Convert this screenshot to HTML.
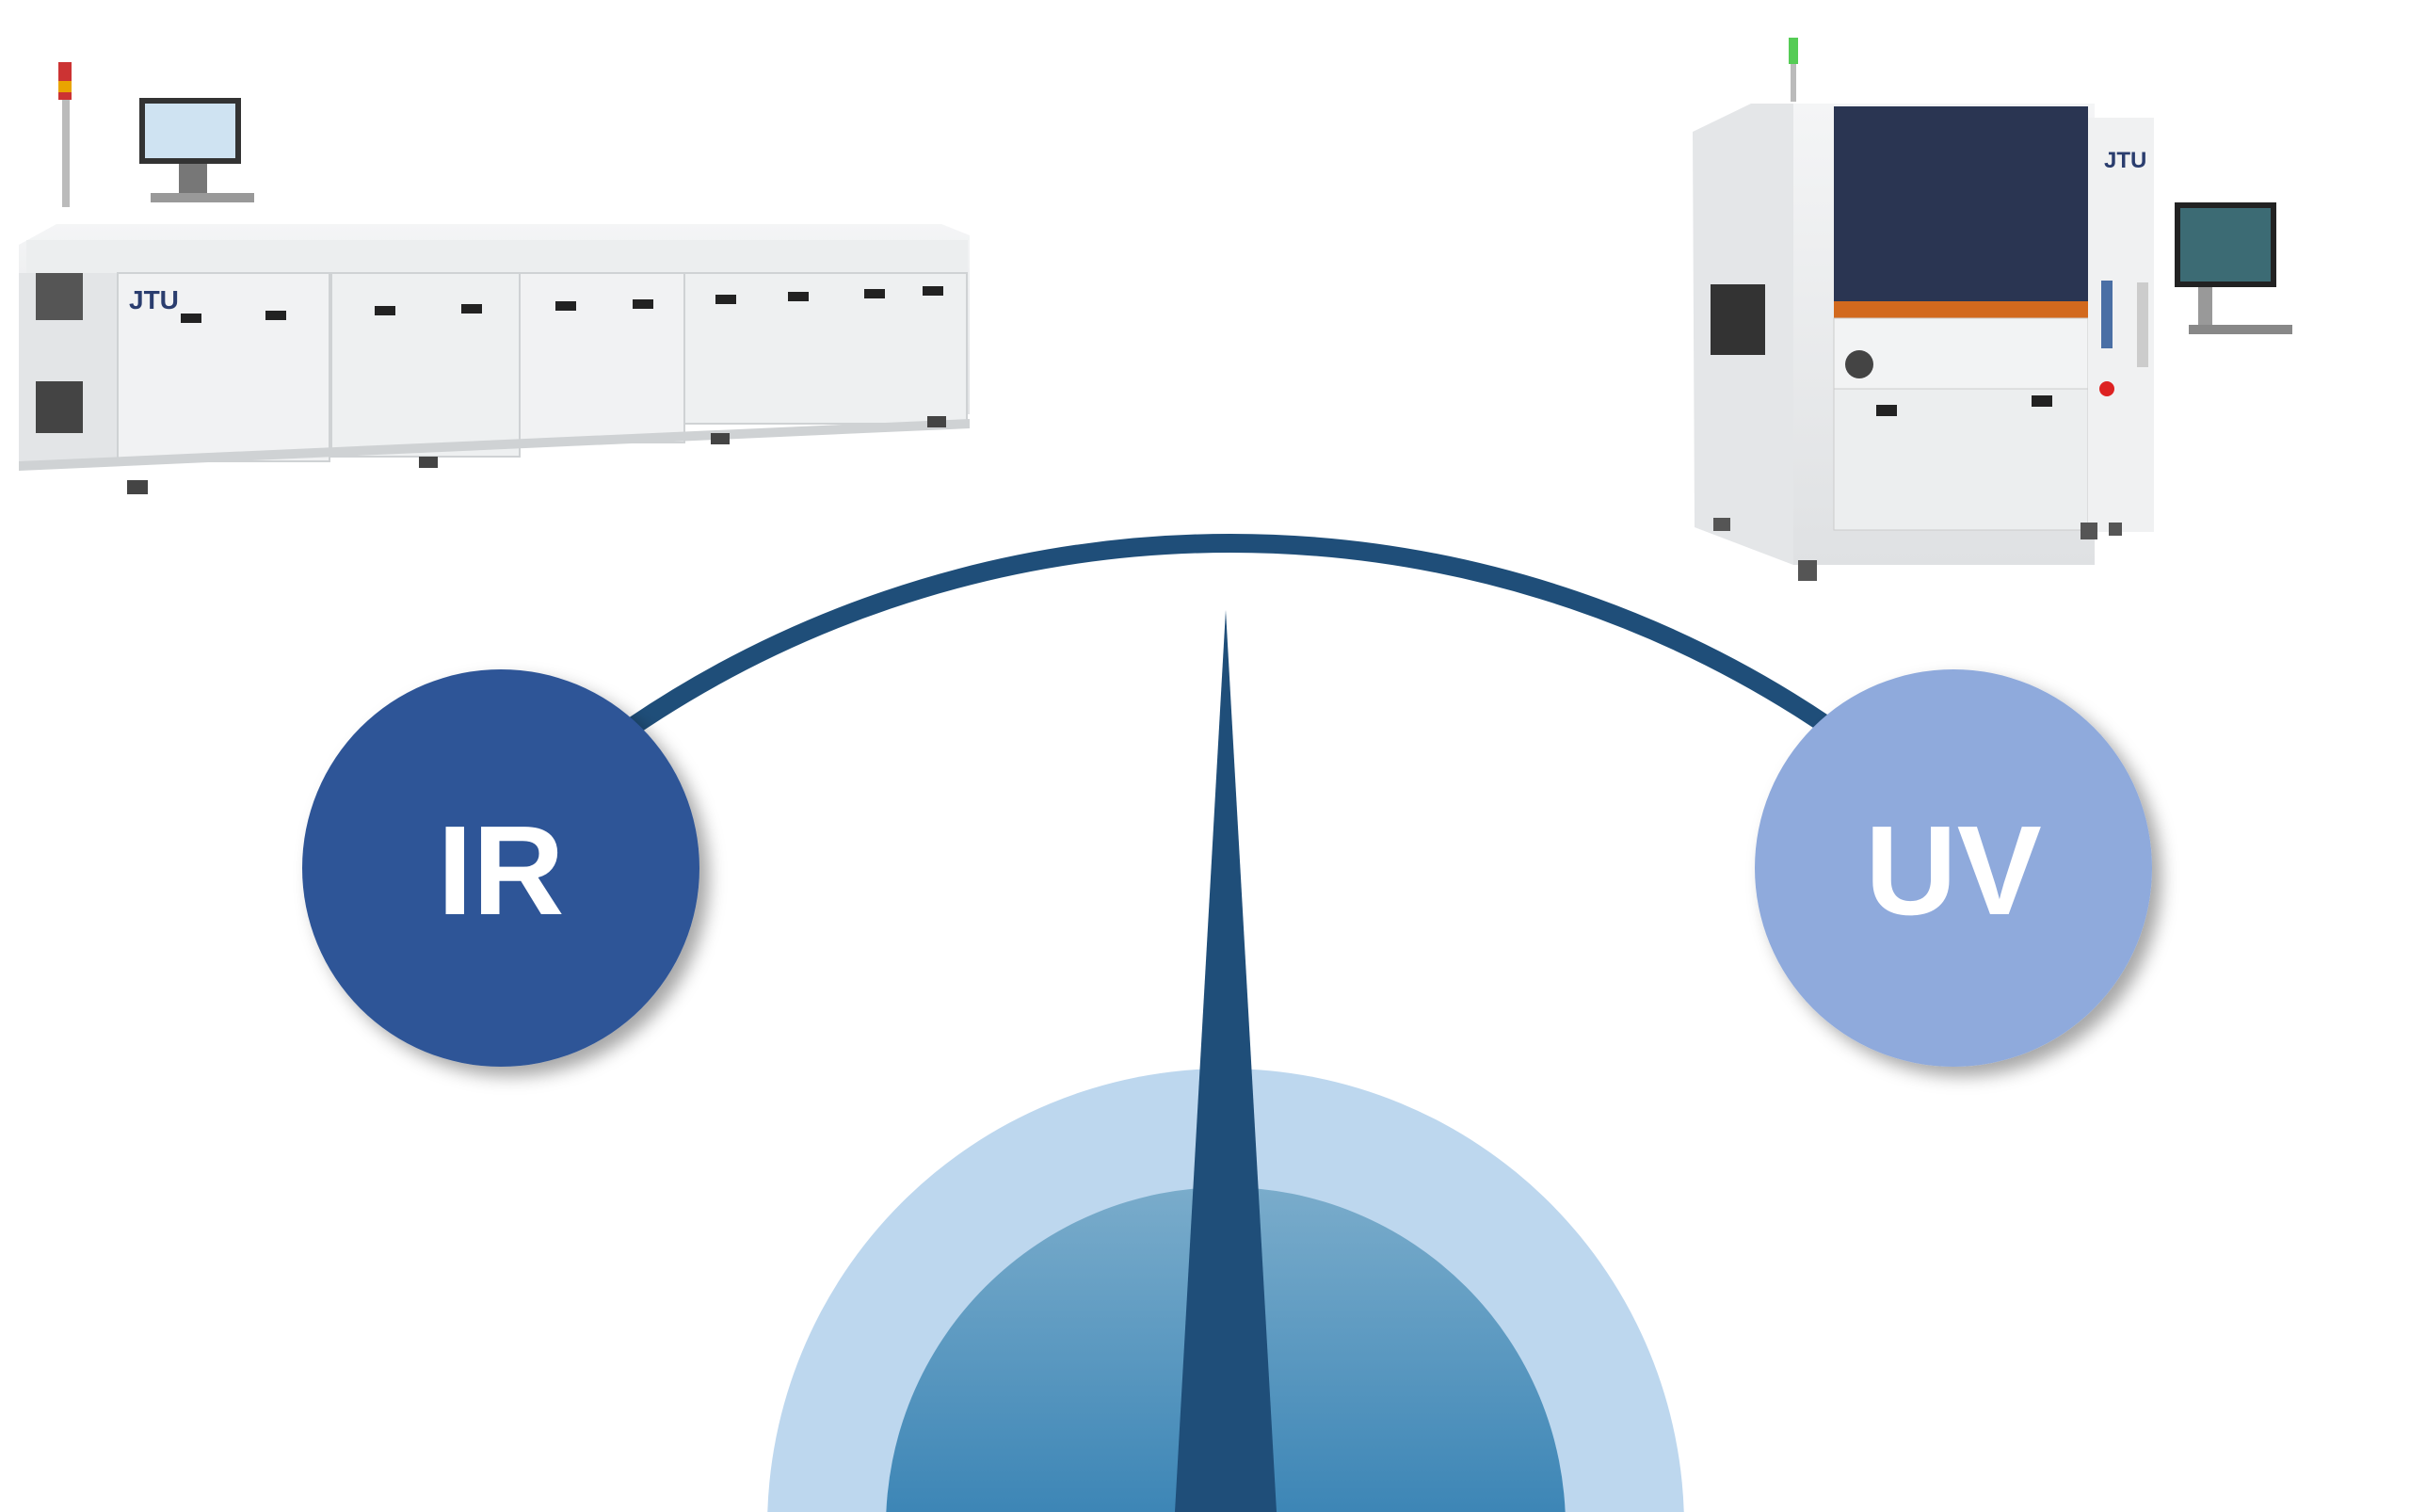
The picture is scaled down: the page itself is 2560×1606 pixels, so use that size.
<!DOCTYPE html>
<html><head><meta charset="utf-8"><style>
html,body{margin:0;padding:0;background:#fff;overflow:hidden;width:2560px;height:1606px;}
svg{display:block;}
</style></head><body>
<svg width="2560" height="1606" viewBox="0 0 2560 1606" xmlns="http://www.w3.org/2000/svg" style="overflow:hidden">
<defs>
<linearGradient id="g1" x1="0" y1="0" x2="0" y2="1">
<stop offset="0" stop-color="#7aaccb"/><stop offset="0.5" stop-color="#3a84b5"/><stop offset="1" stop-color="#2570a5"/>
</linearGradient>
<filter id="sh" x="-20%" y="-20%" width="150%" height="150%"><feDropShadow dx="10" dy="10" stdDeviation="9" flood-color="#000" flood-opacity="0.35"/></filter>
<linearGradient id="mg" x1="0" y1="0" x2="0" y2="1"><stop offset="0" stop-color="#f4f5f6"/><stop offset="1" stop-color="#dfe1e3"/></linearGradient>
</defs>
<rect width="2560" height="1606" fill="#fff"/>

<!-- left oven machine -->
<g>
<rect x="66" y="70" width="8" height="150" fill="#bbb"/>
<rect x="62" y="66" width="14" height="40" fill="#c33"/>
<rect x="62" y="86" width="14" height="12" fill="#e9a400"/>
<rect x="148" y="104" width="108" height="70" fill="#333"/><rect x="154" y="110" width="96" height="58" fill="#cfe3f2"/>
<rect x="190" y="174" width="30" height="40" fill="#777"/>
<rect x="160" y="205" width="110" height="10" fill="#999"/>
<polygon points="20,260 60,238 1000,238 1030,250 1030,440 20,455" fill="url(#mg)"/>
<rect x="28" y="255" width="1000" height="36" fill="#eceeef"/>
<rect x="20" y="290" width="105" height="205" fill="#e3e5e7"/>
<rect x="125" y="290" width="225" height="200" fill="#f1f2f3" stroke="#cfd2d4" stroke-width="2"/>
<rect x="352" y="290" width="200" height="195" fill="#eef0f1" stroke="#cfd2d4" stroke-width="2"/>
<rect x="552" y="290" width="175" height="180" fill="#f1f2f3" stroke="#cfd2d4" stroke-width="2"/>
<rect x="727" y="290" width="300" height="160" fill="#eef0f1" stroke="#cfd2d4" stroke-width="2"/>
<polygon points="20,490 1030,445 1030,455 20,500" fill="#cfd2d4"/>
<rect x="38" y="290" width="50" height="50" fill="#555"/>
<rect x="38" y="405" width="50" height="55" fill="#444"/>
<text x="137" y="328" font-family="Liberation Sans,sans-serif" font-weight="bold" font-size="28" fill="#2a3d6e">JTU</text>
<g fill="#222">
<rect x="192" y="333" width="22" height="10"/><rect x="282" y="330" width="22" height="10"/>
<rect x="398" y="325" width="22" height="10"/><rect x="490" y="323" width="22" height="10"/>
<rect x="590" y="320" width="22" height="10"/><rect x="672" y="318" width="22" height="10"/>
<rect x="760" y="313" width="22" height="10"/><rect x="837" y="310" width="22" height="10"/>
<rect x="918" y="307" width="22" height="10"/><rect x="980" y="304" width="22" height="10"/>
</g>
<g fill="#444"><rect x="135" y="510" width="22" height="15"/><rect x="445" y="485" width="20" height="12"/><rect x="755" y="460" width="20" height="12"/><rect x="985" y="442" width="20" height="12"/></g>
</g>

<!-- right machine -->
<g>
<rect x="1900" y="40" width="10" height="28" fill="#5c5"/><rect x="1902" y="68" width="6" height="40" fill="#bbb"/>
<polygon points="1798,140 1860,110 1905,110 1905,600 1800,560" fill="#e4e6e8"/>
<rect x="1905" y="110" width="320" height="490" fill="url(#mg)"/>
<rect x="1948" y="113" width="270" height="210" fill="#2a3552"/>
<rect x="1948" y="320" width="270" height="18" fill="#d2691e"/>
<rect x="1948" y="338" width="270" height="75" fill="#f2f3f4" stroke="#ccc"/>
<rect x="1948" y="413" width="270" height="150" fill="#eceeef" stroke="#ccc"/>
<rect x="2218" y="125" width="70" height="440" fill="#f0f1f2"/>
<text x="2235" y="178" font-family="Liberation Sans,sans-serif" font-weight="bold" font-size="24" fill="#2a3d6e">JTU</text>
<rect x="1817" y="302" width="58" height="75" fill="#333"/>
<circle cx="1975" cy="387" r="15" fill="#444"/>
<rect x="1993" y="430" width="22" height="12" fill="#222"/><rect x="2158" y="420" width="22" height="12" fill="#222"/>
<rect x="2232" y="298" width="12" height="72" fill="#4a6fa5"/>
<circle cx="2238" cy="413" r="8" fill="#d22"/>
<rect x="2310" y="215" width="108" height="90" fill="#222"/><rect x="2316" y="221" width="96" height="78" fill="#3c6b74"/>
<rect x="2335" y="305" width="15" height="45" fill="#999"/>
<rect x="2325" y="345" width="110" height="10" fill="#888"/>
<rect x="2270" y="300" width="12" height="90" fill="#ccc"/>
<g fill="#555"><rect x="1910" y="595" width="20" height="22"/><rect x="2210" y="555" width="18" height="18"/><rect x="1820" y="550" width="18" height="14"/><rect x="2240" y="555" width="14" height="14"/></g>
</g>

<!-- arc -->
<path d="M632 800 A1133 1133 0 0 1 1982 800" fill="none" stroke="#1f4e79" stroke-width="20"/>
<!-- gauge base -->
<circle cx="1302" cy="1622" r="487" fill="#bdd7ee"/>
<circle cx="1302" cy="1622" r="361" fill="url(#g1)"/>
<!-- needle -->
<polygon points="1302,648 1248,1606 1356,1606" fill="#1f4e79"/>
<!-- circles -->
<circle cx="532" cy="922" r="211" fill="#2f5597" filter="url(#sh)"/>
<circle cx="2075" cy="922" r="211" fill="#8faadc" filter="url(#sh)"/>
<text x="532" y="971" text-anchor="middle" font-family="Liberation Sans,sans-serif" font-weight="bold" font-size="135" fill="#fff">IR</text>
<text x="2075" y="971" text-anchor="middle" font-family="Liberation Sans,sans-serif" font-weight="bold" font-size="135" fill="#fff">UV</text>
</svg>
</body></html>
